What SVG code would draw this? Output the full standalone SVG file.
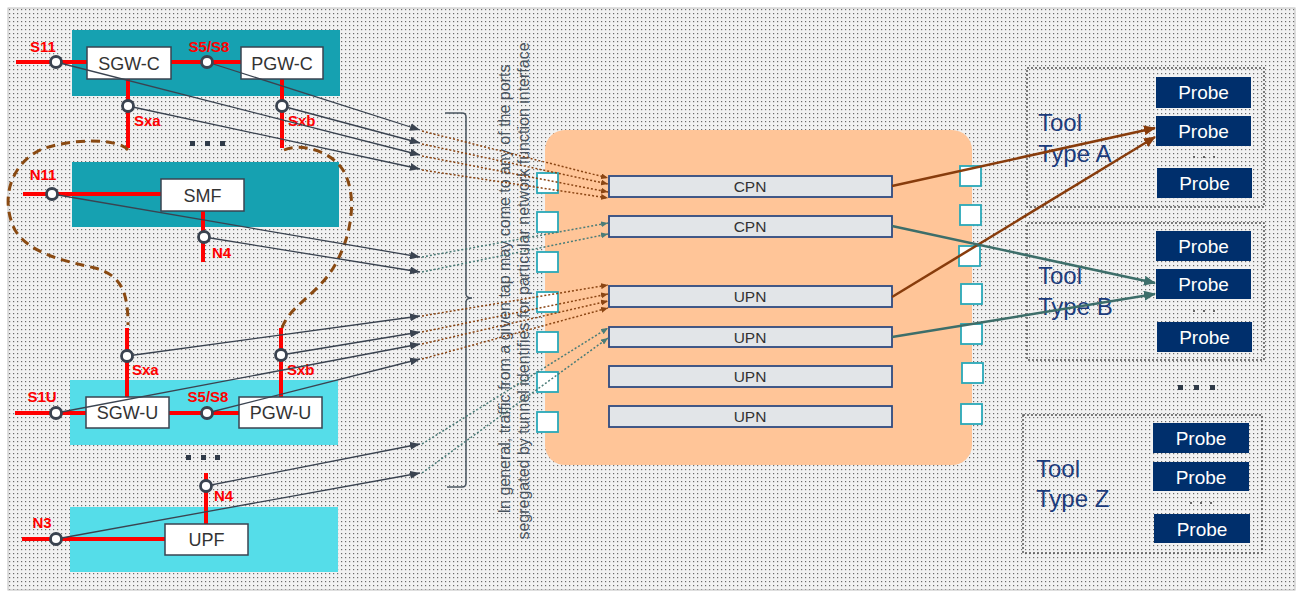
<svg xmlns="http://www.w3.org/2000/svg" width="1297" height="592" viewBox="0 0 1297 592">
<defs>
<pattern id="dots" width="4" height="4" patternUnits="userSpaceOnUse"><rect width="4" height="4" fill="#f2f2f2"/><rect x="1" y="1" width="1.2" height="1.2" fill="#6a6a6a"/></pattern>
<marker id="aGray" markerUnits="userSpaceOnUse" markerWidth="10" markerHeight="8" refX="10" refY="4" orient="auto"><path d="M0,0 L10,4 L0,8 z" fill="#3a4350"/></marker>
<marker id="aBrS" markerUnits="userSpaceOnUse" markerWidth="7" markerHeight="6" refX="7" refY="3" orient="auto"><path d="M0,0 L7,3 L0,6 z" fill="#8b4513"/></marker>
<marker id="aTlS" markerUnits="userSpaceOnUse" markerWidth="7" markerHeight="6" refX="7" refY="3" orient="auto"><path d="M0,0 L7,3 L0,6 z" fill="#4a7c78"/></marker>
<marker id="aBrB" markerUnits="userSpaceOnUse" markerWidth="12" markerHeight="10" refX="11" refY="5" orient="auto"><path d="M0,0 L12,5 L0,10 z" fill="#883c0c"/></marker>
<marker id="aTlB" markerUnits="userSpaceOnUse" markerWidth="12" markerHeight="10" refX="11" refY="5" orient="auto"><path d="M0,0 L12,5 L0,10 z" fill="#3d6e6a"/></marker>
</defs>
<style>
.red{stroke:#ff0000;stroke-width:4;fill:none}
.nf{fill:#ffffff;stroke:#3a4350;stroke-width:1.5}
.nt{font-family:"Liberation Sans",Arial,sans-serif;font-size:18px;fill:#333;text-anchor:middle}
.rl{font-family:"Liberation Sans",Arial,sans-serif;font-size:15px;font-weight:bold;fill:#ff0000}
.tap{fill:#ffffff;stroke:#3a4350;stroke-width:2.8}
.dk{fill:#16a1b1}
.lt{fill:#55dde9}
.tl{stroke:#3a4350;stroke-width:1.3;fill:none;marker-end:url(#aGray)}
.db{stroke:#8b4513;stroke-width:1.5;stroke-dasharray:2,2;fill:none;marker-end:url(#aBrS)}
.dt{stroke:#4a7c78;stroke-width:1.5;stroke-dasharray:2,2;fill:none;marker-end:url(#aTlS)}
.port{fill:#ffffff;stroke:#2aa8b8;stroke-width:1.8}
.bar{fill:#e2e5e8;stroke:#2f4a80;stroke-width:1.8}
.bt{font-family:"Liberation Sans",Arial,sans-serif;font-size:15.5px;fill:#333;text-anchor:middle}
.tb{fill:none;stroke:#555;stroke-width:1.5;stroke-dasharray:2,2}
.pr{fill:#002f6c}
.pt{font-family:"Liberation Sans",Arial,sans-serif;font-size:19px;fill:#ffffff;text-anchor:middle}
.tt{font-family:"Liberation Sans",Arial,sans-serif;font-size:24px;fill:#1c3c7c}
.rt{font-family:"Liberation Sans",Arial,sans-serif;font-size:16px;fill:#4a5560;text-anchor:middle}
.dot{fill:#2f3a48}
</style>
<rect x="8" y="8" width="1287" height="582" fill="url(#dots)" stroke="#c0c0c0"/>

<g id="sgw-pgw-c">
<rect class="dk" x="72" y="30" width="268" height="66"/>
<path class="red" d="M16,62 H87 M171,62 H241 M128,79 V148 M282,79 V148"/>
<rect class="nf" x="87" y="47" width="84" height="32"/>
<rect class="nf" x="241" y="47" width="82" height="32"/>
<text class="nt" x="129" y="70">SGW-C</text>
<text class="nt" x="282" y="70">PGW-C</text>
<text class="rl" x="43" y="52" text-anchor="middle">S11</text>
<text class="rl" x="209" y="52" text-anchor="middle">S5/S8</text>
<text class="rl" x="134" y="126">Sxa</text>
<text class="rl" x="288" y="126">Sxb</text>
</g>
<g id="dots-top"><rect class="dot" x="190" y="141" width="5" height="5"/><rect class="dot" x="205" y="141" width="5" height="5"/><rect class="dot" x="220" y="141" width="5" height="5"/></g>

<g id="smf">
<rect class="dk" x="72" y="162" width="267" height="65"/>
<path class="red" d="M23,194 H161 M203,211 V262"/>
<rect class="nf" x="161" y="179" width="83" height="32"/>
<text class="nt" x="202.5" y="202">SMF</text>
<text class="rl" x="43" y="180" text-anchor="middle">N11</text>
<text class="rl" x="212" y="258">N4</text>
</g>

<g id="cp-boundary"><path d="M128,150 C118,138 70,138 40,150 C10,165 0,200 15,230 C30,255 70,262 95,268 C120,275 128,290 128,325 M284,150 C300,143 330,150 343,170 C358,195 352,235 335,265 C318,295 290,305 282,328" fill="none" stroke="#8a4a12" stroke-width="3" stroke-dasharray="9,6"/></g>

<g id="sgw-pgw-u">
<rect class="lt" x="70" y="380" width="268" height="65"/>
<path class="red" d="M15,413 H86 M169,413 H239 M127,328 V397 M281,328 V397"/>
<rect class="nf" x="86" y="397" width="83" height="31"/>
<rect class="nf" x="239" y="397" width="83" height="31"/>
<text class="nt" x="127.5" y="419">SGW-U</text>
<text class="nt" x="280.5" y="419">PGW-U</text>
<text class="rl" x="42" y="402" text-anchor="middle">S1U</text>
<text class="rl" x="208" y="402" text-anchor="middle">S5/S8</text>
<text class="rl" x="132" y="375">Sxa</text>
<text class="rl" x="287" y="375">Sxb</text>
</g>
<g id="dots-mid"><rect class="dot" x="186" y="455" width="5" height="5"/><rect class="dot" x="201" y="455" width="5" height="5"/><rect class="dot" x="215" y="455" width="5" height="5"/></g>

<g id="upf">
<rect class="lt" x="70" y="507" width="268" height="65"/>
<path class="red" d="M22,539 H165 M206,473 V524"/>
<rect class="nf" x="165" y="524" width="83" height="31"/>
<text class="nt" x="206.5" y="546">UPF</text>
<text class="rl" x="42" y="528" text-anchor="middle">N3</text>
<text class="rl" x="214" y="501">N4</text>
</g>

<g id="note">
<path d="M445,113 H462 Q466,113 466,117 V294 Q466,298 472,298 Q466,298 466,302 V483 Q466,487 462,487 H447" fill="none" stroke="#4a5560" stroke-width="1.5"/>
<text class="rt" transform="translate(510,289) rotate(-90)">In general, traffic from a given tap may come to any of the ports</text>
<text class="rt" transform="translate(529,291) rotate(-90)">segregated by tunnel identifies for particular network function interface</text>
</g>

<g id="broker">
<rect x="545" y="130" width="427" height="335" rx="20" fill="#ffc598"/>
<rect class="port" x="537" y="173" width="21" height="20"/>
<rect class="port" x="537" y="212" width="21" height="20"/>
<rect class="port" x="537" y="252" width="21" height="20"/>
<rect class="port" x="537" y="292" width="21" height="20"/>
<rect class="port" x="537" y="332" width="21" height="20"/>
<rect class="port" x="537" y="372" width="21" height="20"/>
<rect class="port" x="537" y="412" width="21" height="20"/>
<rect class="port" x="960" y="166" width="21" height="20"/>
<rect class="port" x="960" y="205" width="21" height="20"/>
<rect class="port" x="959" y="246" width="21" height="20"/>
<rect class="port" x="961" y="284" width="21" height="20"/>
<rect class="port" x="961" y="324" width="21" height="20"/>
<rect class="port" x="962" y="363" width="21" height="20"/>
<rect class="port" x="961" y="404" width="21" height="20"/>
</g>
<g id="cpn1"><rect class="bar" x="609" y="176" width="283" height="21"/><text class="bt" x="750" y="192">CPN</text></g>
<g id="cpn2"><rect class="bar" x="609" y="216" width="283" height="21"/><text class="bt" x="750" y="232">CPN</text></g>
<g id="upn1"><rect class="bar" x="609" y="286" width="283" height="21"/><text class="bt" x="750" y="302">UPN</text></g>
<g id="upn2"><rect class="bar" x="609" y="327" width="283" height="20"/><text class="bt" x="750" y="343">UPN</text></g>
<g id="upn3"><rect class="bar" x="609" y="366" width="283" height="21"/><text class="bt" x="750" y="382">UPN</text></g>
<g id="upn4"><rect class="bar" x="609" y="406" width="283" height="21"/><text class="bt" x="750" y="422">UPN</text></g>

<g id="tool-a">
<rect class="tb" x="1027" y="68" width="237" height="139"/>
<text class="tt" x="1038" y="131">Tool</text><text class="tt" x="1038" y="162">Type A</text>
<rect class="pr" x="1156" y="77" width="95" height="31"/><text class="pt" x="1203.5" y="99">Probe</text>
<rect class="pr" x="1156" y="116" width="95" height="30"/><text class="pt" x="1203.5" y="138">Probe</text>
<rect class="pr" x="1157" y="168" width="95" height="30"/><text class="pt" x="1204.5" y="190">Probe</text>
<g fill="#666"><rect x="1193" y="156" width="2" height="2"/><rect x="1203" y="156" width="2" height="2"/><rect x="1213" y="156" width="2" height="2"/></g>
</g>
<g id="tool-b">
<rect class="tb" x="1027" y="223" width="237" height="137"/>
<text class="tt" x="1038" y="284">Tool</text><text class="tt" x="1038" y="315">Type B</text>
<rect class="pr" x="1156" y="231" width="95" height="30"/><text class="pt" x="1203.5" y="253">Probe</text>
<rect class="pr" x="1156" y="269" width="95" height="30"/><text class="pt" x="1203.5" y="291">Probe</text>
<rect class="pr" x="1157" y="322" width="95" height="30"/><text class="pt" x="1204.5" y="344">Probe</text>
<g fill="#666"><rect x="1193" y="310" width="2" height="2"/><rect x="1203" y="310" width="2" height="2"/><rect x="1213" y="310" width="2" height="2"/></g>
</g>
<g id="dots-right"><rect class="dot" x="1178" y="385" width="5" height="5"/><rect class="dot" x="1194" y="385" width="5" height="5"/><rect class="dot" x="1210" y="385" width="5" height="5"/></g>
<g id="tool-z">
<rect class="tb" x="1023" y="415" width="239" height="138"/>
<text class="tt" x="1036" y="477">Tool</text><text class="tt" x="1036" y="507">Type Z</text>
<rect class="pr" x="1153" y="423" width="96" height="30"/><text class="pt" x="1201" y="445">Probe</text>
<rect class="pr" x="1153" y="462" width="96" height="29"/><text class="pt" x="1201" y="484">Probe</text>
<rect class="pr" x="1154" y="514" width="96" height="29"/><text class="pt" x="1202" y="536">Probe</text>
<g fill="#666"><rect x="1190" y="502" width="2" height="2"/><rect x="1200" y="502" width="2" height="2"/><rect x="1210" y="502" width="2" height="2"/></g>
</g>

<g id="connectors">
<path class="tl" d="M207,62 L420,130"/>
<path class="tl" d="M282,106 L420,143"/>
<path class="tl" d="M56,62 L420,155"/>
<path class="tl" d="M128,106 L420,169"/>
<path class="tl" d="M52,194 L420,257"/>
<path class="tl" d="M204,237 L420,272"/>
<path class="tl" d="M127,356 L420,316"/>
<path class="tl" d="M281,355 L420,332"/>
<path class="tl" d="M56,413 L420,344"/>
<path class="tl" d="M207,413 L420,359"/>
<path class="tl" d="M206,486 L420,444"/>
<path class="tl" d="M56,539 L420,473"/>
<path class="db" d="M422,131 L608,178"/>
<path class="db" d="M422,144 L608,184"/>
<path class="db" d="M422,156 L608,192"/>
<path class="db" d="M422,170 L608,198"/>
<path class="dt" d="M422,257 L608,223"/>
<path class="dt" d="M422,272 L608,234"/>
<path class="db" d="M422,316 L608,285"/>
<path class="db" d="M422,332 L608,294"/>
<path class="db" d="M422,344 L608,301"/>
<path class="db" d="M422,359 L608,308"/>
<path class="dt" d="M422,444 L608,328"/>
<path class="dt" d="M422,473 L608,338"/>
<path d="M892,186 L1155,128" stroke="#883c0c" stroke-width="2.5" fill="none" marker-end="url(#aBrB)"/>
<path d="M892,297 L1155,137" stroke="#883c0c" stroke-width="2.5" fill="none" marker-end="url(#aBrB)"/>
<path d="M892,226 L1155,283" stroke="#3d6e6a" stroke-width="2.5" fill="none" marker-end="url(#aTlB)"/>
<path d="M892,337 L1155,294" stroke="#3d6e6a" stroke-width="2.5" fill="none" marker-end="url(#aTlB)"/>
</g>

<g id="taps">
<circle class="tap" cx="56" cy="62" r="5.5"/>
<circle class="tap" cx="207" cy="62" r="5.5"/>
<circle class="tap" cx="128" cy="106" r="5.5"/>
<circle class="tap" cx="282" cy="106" r="5.5"/>
<circle class="tap" cx="52" cy="194" r="5.5"/>
<circle class="tap" cx="204" cy="237" r="5.5"/>
<circle class="tap" cx="127" cy="356" r="5.5"/>
<circle class="tap" cx="281" cy="355" r="5.5"/>
<circle class="tap" cx="56" cy="413" r="5.5"/>
<circle class="tap" cx="207" cy="413" r="5.5"/>
<circle class="tap" cx="206" cy="486" r="5.5"/>
<circle class="tap" cx="56" cy="539" r="5.5"/>
</g>
</svg>
